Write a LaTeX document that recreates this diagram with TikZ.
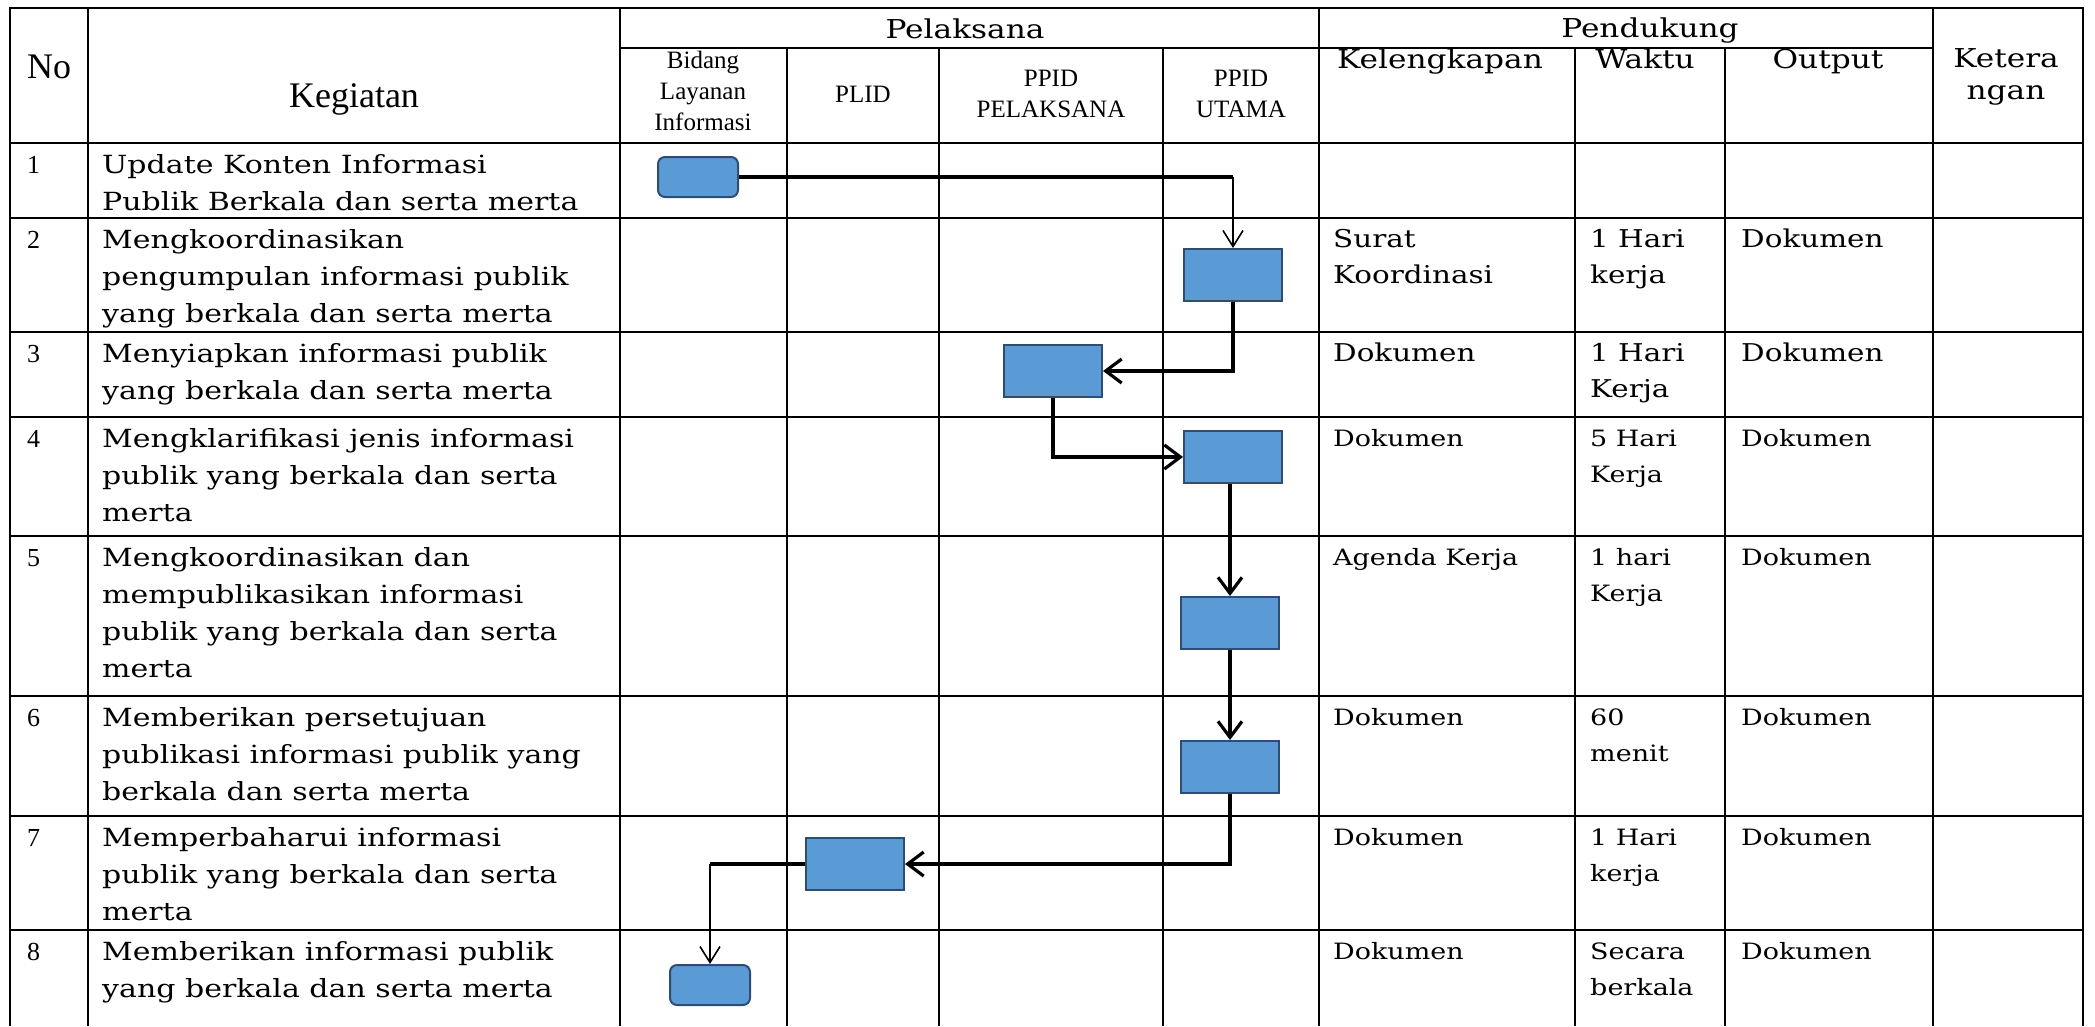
\documentclass[tikz,border=0pt]{standalone}
\usepackage{fontspec}
\setmainfont{DejaVu Serif}[FakeStretch=1.2]
\newfontfamily\headfont{Liberation Serif}
\usetikzlibrary{arrows.meta}
\usetikzlibrary{calc}

\definecolor{boxfill}{HTML}{5B9BD5}
\definecolor{boxline}{HTML}{2E4D73}

\tikzset{
  gridline/.style={line width=2pt},
  act/.style={draw=boxline,fill=boxfill,line width=2pt,minimum width=98pt,minimum height=52pt,inner sep=0pt},
  term/.style={act,rounded corners=7pt,minimum width=80pt,minimum height=40pt},
  link/.style={line width=3.2pt},
  flow/.style={link,-{Straight Barb[length=16pt,width=24pt]}},
  thinflow/.style={line width=1.6pt,-{Straight Barb[length=16pt,width=20pt]}},
  numtext/.style={font=\headfont\fontsize{26}{37}\selectfont,anchor=north west,inner sep=0pt},
  kegtext/.style={font=\fontsize{25}{37}\selectfont,align=left,anchor=north west,inner sep=0pt},
  duktext/.style={align=left,anchor=north west,inner sep=0pt},
  hdbig/.style={font=\headfont\fontsize{36}{40}\selectfont,inner sep=0pt},
  hdmid/.style={font=\fontsize{26}{32}\selectfont,align=center,inner sep=0pt},
  hdsmall/.style={font=\headfont\fontsize{25}{31}\selectfont,align=center,inner sep=0pt}
}

\begin{document}
\begin{tikzpicture}[x=1pt,y=-1pt]
  \useasboundingbox (0,0) rectangle (2095,1026);

  % table grid
  \draw[gridline] (10,1026) -- (10,8) -- (2083,8) -- (2083,1026);
  \foreach \y in {143,218,332,417,536,696,816,930}
    \draw[gridline] (10,\y) -- (2083,\y);
  \draw[gridline] (620,48) -- (1933,48);
  \foreach \x in {88,620,1319,1933}
    \draw[gridline] (\x,8) -- (\x,1026);
  \foreach \x in {787,939,1163,1575,1725}
    \draw[gridline] (\x,48) -- (\x,1026);

  % header
  \node[hdbig,anchor=base west] (hno) at (27,78) {No};
  \node[hdbig,anchor=base] (hkeg) at (354,107) {Kegiatan};
  \node[hdmid,anchor=base] (hpel) at (965,38) {Pelaksana};
  \node[hdmid,anchor=base] (hpen) at (1650,37) {Pendukung};
  \node[hdsmall,anchor=north] (hbid) at (703,46.3) {\strut Bidang\\Layanan\\Informasi};
  \node[hdsmall,anchor=base] (hplid) at (863,102) {PLID};
  \node[hdsmall,anchor=north] (hppel) at (1051,64.3) {\strut PPID\\PELAKSANA};
  \node[hdsmall,anchor=north] (hput) at (1241,64.3) {\strut PPID\\UTAMA};
  \node[hdmid,anchor=base] (hkel) at (1440,68) {Kelengkapan};
  \node[hdmid,anchor=base] (hwak) at (1645,68) {Waktu};
  \node[hdmid,anchor=base] (hout) at (1828,68) {Output};
  \node[hdmid,anchor=north] (hket) at (2006,44.6) {\strut Ketera\\ngan};

  % rows: number, kegiatan
  \foreach \n/\t/\keg in {
      1/143/{Update Konten Informasi\\Publik Berkala dan serta merta},
      2/218/{Mengkoordinasikan\\pengumpulan informasi publik\\yang berkala dan serta merta},
      3/332/{Menyiapkan informasi publik\\yang berkala dan serta merta},
      4/417/{Mengklarifikasi jenis informasi\\publik yang berkala dan serta\\merta},
      5/536/{Mengkoordinasikan dan\\mempublikasikan informasi\\publik yang berkala dan serta\\merta},
      6/696/{Memberikan persetujuan\\publikasi informasi publik yang\\berkala dan serta merta},
      7/816/{Memperbaharui informasi\\publik yang berkala dan serta\\merta},
      8/930/{Memberikan informasi publik\\yang berkala dan serta merta}}{
    \node[numtext] (no\n) at (27,\t+4) {\strut\n};
    \node[kegtext] (keg\n) at (102,\t+4) {\strut\keg};
  }

  % rows: pendukung
  \foreach \n/\t/\s/\kel/\wak in {
      2/218/24.5/{Surat\\Koordinasi}/{1 Hari\\kerja},
      3/332/24.5/{Dokumen}/{1 Hari\\Kerja},
      4/417/22.5/{Dokumen}/{5 Hari\\Kerja},
      5/536/22.5/{Agenda Kerja}/{1 hari\\Kerja},
      6/696/22.5/{Dokumen}/{60\\menit},
      7/816/22.5/{Dokumen}/{1 Hari\\kerja},
      8/930/22.5/{Dokumen}/{Secara\\berkala}}{
    \node[duktext,font=\fontsize{\s}{36}\selectfont] (kel\n) at (1333,\t+3.8) {\strut\kel};
    \node[duktext,font=\fontsize{\s}{36}\selectfont] (wak\n) at (1590,\t+3.8) {\strut\wak};
    \node[duktext,font=\fontsize{\s}{36}\selectfont] (out\n) at (1741,\t+3.8) {\strut Dokumen};
  }

  % flow boxes
  \node[term] (b1) at (698,177) {};
  \node[act]  (b2) at (1233,275) {};
  \node[act]  (b3) at (1053,371) {};
  \node[act]  (b4) at (1233,457) {};
  \node[act]  (b5) at (1230,623) {};
  \node[act]  (b6) at (1230,767) {};
  \node[act]  (b7) at (855,864) {};
  \node[term] (b8) at (710,985) {};

  % connectors
  \coordinate (k12) at (b1.east -| b2.north);
  \draw[link] (b1.east) -- (k12);
  \draw[thinflow] (k12) -- (b2.north);
  \draw[flow] (b2.south) |- (b3.east);
  \draw[flow] (b3.south) |- (b4.west);
  \draw[flow] (b4.south -| b5.north) -- (b5.north);
  \draw[flow] (b5.south) -- (b6.north);
  \draw[flow] (b6.south) |- (b7.east);
  \coordinate (k78) at (b7.west -| b8.north);
  \draw[link] (b7.west) -- (k78);
  \draw[thinflow] (k78) -- (b8.north);
\end{tikzpicture}
\end{document}
